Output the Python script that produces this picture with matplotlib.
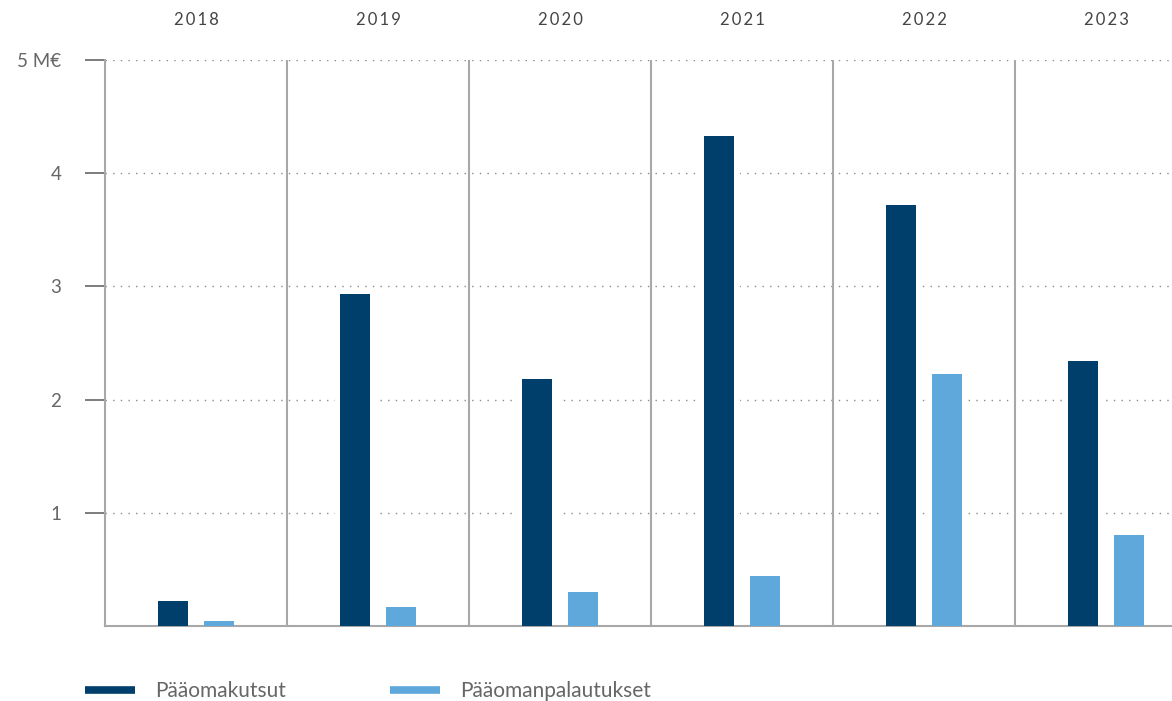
import matplotlib.pyplot as plt
from matplotlib.lines import Line2D
from matplotlib.transforms import blended_transform_factory

years = ['2018', '2019', '2020', '2021', '2022', '2023']
paaomakutsut = [0.22, 2.93, 2.18, 4.33, 3.72, 2.34]
palautukset = [0.04, 0.17, 0.30, 0.44, 2.23, 0.80]
y_ticks = [1, 2, 3, 4, 5]
y_labels = ['1', '2', '3', '4', '5 M€']

dark = '#003f6b'
light = '#5ea8dc'
grey = '#a8a8a8'

plt.rcParams['font.family'] = ['Lato', 'DejaVu Sans']

W, H = 1172, 701
fig = plt.figure(figsize=(W / 100, H / 100), dpi=100)
# the last year column runs past the right edge of the figure
ax = fig.add_axes([105 / W, 75 / H, 1092 / W, 566 / H])

n = len(years)
x = [i + 0.5 for i in range(n)]
off = 0.126
w = 0.165

# white halo behind the bars so the dotted grid stops short of them
ax.bar([v - off for v in x], paaomakutsut, width=w + 0.06, color='white', zorder=2)
ax.bar([v + off for v in x], palautukset, width=w + 0.06, color='white', zorder=2)
ax.bar([v - off for v in x], paaomakutsut, width=w, color=dark, zorder=3)
ax.bar([v + off for v in x], palautukset, width=w, color=light, zorder=3)

ax.set_xlim(0, n)
ax.set_ylim(0, 5)

for yv in y_ticks:
    ax.axhline(yv, color='#8a8a8a', lw=1, linestyle=(0, (1, 4.5)), zorder=1)
for i in range(1, n):
    ax.axvline(i, color=grey, lw=1.5, zorder=1)

for s in ['top', 'right']:
    ax.spines[s].set_visible(False)
ax.spines['left'].set_color(grey)
ax.spines['left'].set_linewidth(1.5)
ax.spines['bottom'].set_color(grey)
ax.spines['bottom'].set_linewidth(1.5)

ax.set_xticks([])
ax.set_yticks(y_ticks)
ax.set_yticklabels(y_labels)
ax.tick_params(axis='y', length=14.5, width=1.2, color='#666666', pad=17,
               labelsize=13.5, labelcolor='#666666')

tr = blended_transform_factory(ax.transData, ax.transAxes)
for xi, yr in zip(x, years):
    ax.text(xi, 1.0 + 40 / 566, '\u2009'.join(yr), transform=tr,
            ha='center', va='center', fontsize=12, color='#444444', clip_on=False)

handles = [Line2D([], [], color=dark, lw=5.5, solid_capstyle='butt'),
           Line2D([], [], color=light, lw=5.5, solid_capstyle='butt')]
fig.legend(handles, ['Pääomakutsut', 'Pääomanpalautukset'],
           loc='center left', bbox_to_anchor=(85 / W, 1 - 691 / H),
           ncol=2, frameon=False, fontsize=15, labelcolor='#666666',
           handlelength=2.4, handletextpad=0.96, columnspacing=5.0,
           borderpad=0, borderaxespad=0)

fig.savefig('out.png', dpi=100)
